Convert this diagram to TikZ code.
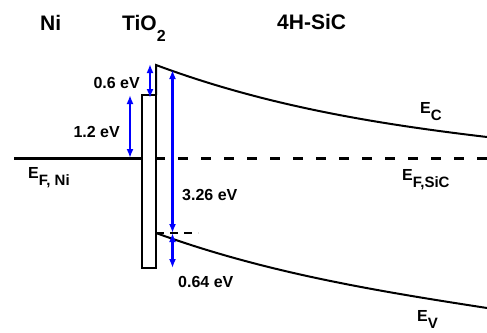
\documentclass[tikz,border=0pt]{standalone}
\usepackage{fontspec}
\setmainfont{Liberation Sans}
\usetikzlibrary{arrows.meta}
\newcommand{\Elev}[1]{E\raisebox{-7pt}{\fontsize{15}{15}\selectfont #1}}
\begin{document}
\begin{tikzpicture}[x=1pt,y=-1pt,
  band/.style={line width=2pt, black},
  fermi/.style={line width=3pt, black},
  ebar/.style={blue, line width=2.2pt, {Latex[length=9pt,width=7pt]}-{Latex[length=9pt,width=7pt]}},
  lbl/.style={font=\bfseries\fontsize{16}{18}\selectfont, inner sep=0pt},
  ttl/.style={font=\bfseries\fontsize{21}{24}\selectfont, inner sep=0pt}]
\useasboundingbox (0,0) rectangle (487,332);
% coordinates
\coordinate (niL) at (14,158);
\coordinate (niR) at (142,158);
\coordinate (oxTL) at (142,95);
\coordinate (oxBR) at (156,268);
\coordinate (ecS) at (156,65);
\coordinate (ecE) at (487,137);
\coordinate (evS) at (156,233);
\coordinate (evE) at (487,308);
\coordinate (efS) at (155,158);
\coordinate (efE) at (487,158);
\coordinate (vbS) at (156,233);
\coordinate (vbE) at (198,233);
\coordinate (a1t) at (150,64);
\coordinate (a1b) at (150,98);
\coordinate (a2t) at (130,95);
\coordinate (a2b) at (130,158);
\coordinate (a3t) at (172.5,70);
\coordinate (a3b) at (172.5,233);
\coordinate (a4t) at (172.5,233);
\coordinate (a4b) at (172.5,268);
% bands
\draw[fermi] (niL) -- (niR);
\draw[band] (oxTL) rectangle (oxBR);
\draw[band] (oxBR |- oxTL) -- (ecS) .. controls (266,106) and (377,124) .. (ecE);
\draw[band] (evS) .. controls (266,273) and (377,291) .. (evE);
\draw[fermi, dash pattern=on 10pt off 13pt] (efS) -- (efE);
\draw[line width=1.5pt, dash pattern=on 8pt off 6pt] (vbS) -- (vbE);
% arrows
\draw[ebar] (a1t) -- (a1b);
\draw[ebar] (a2t) -- (a2b);
\draw[ebar] (a3t) -- (a3b);
\draw[ebar] (a4t) -- (a4b);
% titles
\node[ttl, anchor=base west] (tNi) at (40,30) {Ni};
\node[ttl, anchor=base west] (tTi) at (122,30) {TiO\raisebox{-12pt}{\fontsize{16}{16}\selectfont 2}};
\node[ttl, anchor=base west] (tSiC) at (277,29) {4H-SiC};
% labels
\node[lbl, anchor=base east] (l06) at (140,88) {0.6 eV};
\node[lbl, anchor=base east] (l12) at (120,137) {1.2 eV};
\node[lbl, anchor=base west] (l326) at (182,200) {3.26 eV};
\node[lbl, anchor=base west] (l064) at (178,287) {0.64 eV};
\node[lbl, anchor=base west] (lEFNi) at (28,178) {\Elev{F, Ni}};
\node[lbl, anchor=base west] (lEC) at (420,113) {\Elev{C}};
\node[lbl, anchor=base west] (lEF) at (402,180) {\Elev{F,SiC}};
\node[lbl, anchor=base west] (lEV) at (417,321) {\Elev{V}};
\end{tikzpicture}
\end{document}
